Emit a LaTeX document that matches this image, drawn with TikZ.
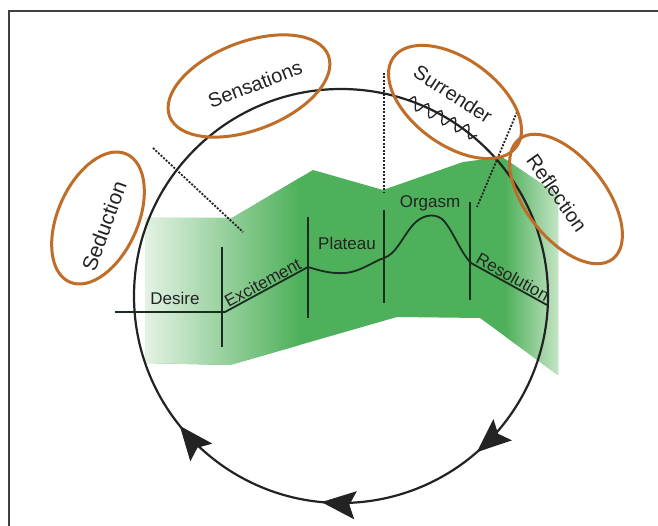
\documentclass[tikz,border=0pt]{standalone}
\usepackage{fontspec}
\setmainfont{Liberation Sans}
\usetikzlibrary{shapes.geometric,decorations.markings,decorations.pathmorphing,arrows.meta}
\definecolor{orng}{RGB}{190,110,40}
\definecolor{gmid}{RGB}{78,176,90}
\definecolor{gpale}{RGB}{232,244,232}
\definecolor{gright}{RGB}{200,230,200}
\definecolor{ink}{RGB}{35,35,35}
\definecolor{lineink}{RGB}{25,45,30}
\begin{document}
\begin{tikzpicture}[x=1pt,y=-1pt,
  lbl/.style={font=\fontsize{17}{17}\selectfont, text=ink, inner sep=1.5pt},
  bigl/.style={font=\fontsize{20}{20}\selectfont, text=ink, inner sep=1pt},
  oval/.style={draw=orng, line width=3pt, ellipse, inner sep=0pt},
  proc/.style={draw=lineink, line width=1.8pt},
  dotl/.style={draw=ink, line width=1.8pt, dash pattern=on 2pt off 1.5pt},
  cyc/.style={draw=ink, line width=2.2pt},
]
\useasboundingbox (0,0) rectangle (658,526);
\fill[white] (0,0) rectangle (658,526);
% frame
\coordinate (fbl) at (8.5,526);
\coordinate (ftl) at (8.5,11);
\coordinate (ftr) at (658,11);
\draw[line width=2pt, black!75] (fbl) -- (ftl) -- (ftr);

% green band
\begin{scope}
\clip (145,218) -- (232,218) -- (313,170) -- (383,190) -- (463,162) -- (502,157) -- (558,195) -- (558,375) -- (480,318) -- (397,317) -- (230,365) -- (145,363) -- cycle;
\fill[gmid] (140,150) rectangle (560,380);
\shade[left color=gpale, right color=gmid] (140,150) rectangle (300,380);
\shade[left color=gmid, right color=gright] (505,150) rectangle (560,380);
\end{scope}

% cycle circle
\coordinate (c) at (341,296);
\draw[cyc, postaction={decorate}, decoration={markings,
   mark=at position 0.136 with {\arrow{Stealth[length=34pt,width=28pt,inset=6pt]}},
   mark=at position 0.265 with {\arrow{Stealth[length=34pt,width=28pt,inset=6pt]}},
   mark=at position 0.392 with {\arrow{Stealth[length=34pt,width=28pt,inset=6pt]}}}]
   (c) circle[radius=207];

% dotted separators
\coordinate (dA0) at (153,148); \coordinate (dA1) at (243,232);
\coordinate (dB0) at (384,73);  \coordinate (dB1) at (384,193);
\coordinate (dC0) at (517,112); \coordinate (dC1) at (477,207);
\draw[dotl] (dA0) -- (dA1);
\draw[dotl] (dB0) -- (dB1);
\draw[dotl] (dC0) -- (dC1);

% vertical phase separators
\coordinate (v10) at (222,247); \coordinate (v11) at (222,347);
\coordinate (v20) at (308,217); \coordinate (v21) at (308,318);
\coordinate (v30) at (384,210); \coordinate (v31) at (384,303);
\coordinate (v40) at (470,202); \coordinate (v41) at (470,300);
\draw[proc] (v10) -- (v11);
\draw[proc] (v20) -- (v21);
\draw[proc] (v30) -- (v31);
\draw[proc] (v40) -- (v41);

% response curve
\coordinate (d0) at (115,312);
\coordinate (d1) at (225,312);
\coordinate (e1) at (308,267);
\coordinate (p1) at (384,258);
\coordinate (o1) at (471,263);
\coordinate (r1) at (547,305);
\draw[proc, line join=round] (d0) -- (d1) -- (e1)
   .. controls (318,270) and (330,274) .. (345,273)
   .. controls (360,272) and (372,262) .. (p1)
   .. controls (396,254) and (402,238) .. (412,226)
   .. controls (420,216) and (433,212) .. (442,219)
   .. controls (452,228) and (460,252) .. (o1) -- (r1);

% phase labels
\node[lbl, anchor=base] (desire) at (175,305) {Desire};
\path (d1) -- (e1) node[lbl, midway, sloped, above] (exc) {Excitement};
\node[lbl, anchor=base] (plat) at (347,250) {Plateau};
\node[lbl, anchor=base] (org) at (430,208) {Orgasm};
\path (o1) -- (r1) node[lbl, midway, sloped, above] (res) {Resolution};

% ovals with their labels
\node[oval, minimum width=140pt, minimum height=80pt, rotate=66] (sed) at (98,218) {};
\node[bigl, font=\fontsize{21}{21}\selectfont, rotate=70] (sedt) at (104,226) {Seduction};
\node[oval, minimum width=170pt, minimum height=88pt, rotate=21] (sen) at (249,86) {};
\node[bigl, rotate=21] (sent) at (255,84) {Sensations};
\node[oval, minimum width=152pt, minimum height=86pt, rotate=-36] (sur) at (455,102) {};
\node[bigl, rotate=-33] (surt) at (453,94) {Surrender};
\coordinate (sq0) at (408,100); \coordinate (sq1) at (477,136);
\draw[ink, line width=1.3pt, decorate, decoration={snake, amplitude=6pt, segment length=15pt}] (sq0) -- (sq1);
\node[oval, minimum width=152pt, minimum height=80pt, rotate=-52] (ref) at (566,199) {};
\node[bigl, rotate=-55] (reft) at (557,193) {Reflection};
\end{tikzpicture}
\end{document}
